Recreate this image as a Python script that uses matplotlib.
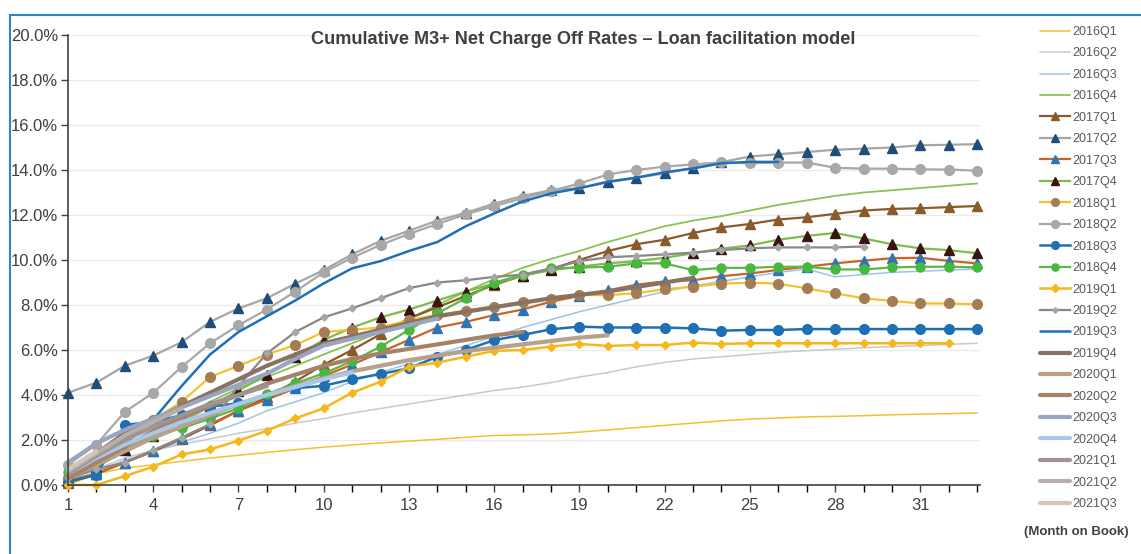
import matplotlib
matplotlib.use("Agg")
import matplotlib.pyplot as plt
from matplotlib.patches import Rectangle

plt.rcParams['font.family'] = ['Liberation Sans', 'DejaVu Sans']

series_names = ["2016Q1", "2016Q2", "2016Q3", "2016Q4", "2017Q1", "2017Q2", "2017Q3", "2017Q4",
                "2018Q1", "2018Q2", "2018Q3", "2018Q4", "2019Q1", "2019Q2", "2019Q3", "2019Q4",
                "2020Q1", "2020Q2", "2020Q3", "2020Q4", "2021Q1", "2021Q2", "2021Q3"]

v2016Q1 = [0.0, 0.5, 0.75, 0.9, 1.05, 1.2, 1.32, 1.45, 1.57, 1.68, 1.78, 1.87, 1.95, 2.03, 2.12, 2.2, 2.23,
           2.27, 2.35, 2.45, 2.55, 2.65, 2.75, 2.85, 2.93, 2.98, 3.03, 3.05, 3.08, 3.12, 3.15, 3.17, 3.2]
v2016Q2 = [0.2, 0.7, 1.2, 1.55, 1.8, 2.05, 2.3, 2.5, 2.75, 2.95, 3.2, 3.4, 3.6, 3.8, 4.0, 4.2, 4.35, 4.55,
           4.8, 5.0, 5.25, 5.45, 5.6, 5.7, 5.8, 5.9, 5.97, 6.03, 6.1, 6.15, 6.2, 6.25, 6.3]
v2016Q3 = [0.1, 0.6, 1.1, 1.5, 1.9, 2.3, 2.75, 3.3, 3.7, 4.1, 4.6, 5.0, 5.4, 5.8, 6.2, 6.6, 7.0, 7.35, 7.7,
           8.0, 8.3, 8.6, 8.85, 9.05, 9.25, 9.45, 9.6, 9.25, 9.35, 9.45, 9.5, 9.55, 9.6]
v2016Q4 = [0.2, 0.8, 1.5, 2.3, 3.0, 3.7, 4.3, 4.8, 5.3, 5.8, 6.3, 6.8, 7.4, 8.0, 8.6, 9.15, 9.65, 10.05,
           10.4, 10.8, 11.15, 11.5, 11.75, 11.95, 12.2, 12.45, 12.65, 12.85, 13.0, 13.1, 13.2, 13.3, 13.4]
v2017Q1 = [0.1, 0.5, 1.0, 1.5, 2.05, 2.65, 3.3, 3.9, 4.6, 5.35, 6.0, 6.7, 7.4, 7.9, 8.4, 8.9, 9.3, 9.6,
           10.0, 10.4, 10.7, 10.9, 11.2, 11.45, 11.6, 11.8, 11.9, 12.05, 12.2, 12.27, 12.3, 12.35, 12.4]
v2017Q2 = [4.1, 4.55, 5.3, 5.75, 6.35, 7.25, 7.85, 8.3, 8.95, 9.55, 10.25, 10.85, 11.3, 11.75, 12.1, 12.5,
           12.85, 13.1, 13.2, 13.45, 13.65, 13.85, 14.1, 14.35, 14.6, 14.7, 14.8, 14.9, 14.95, 15.0, 15.1,
           15.12, 15.15]
v2017Q3 = [0.2, 0.5, 1.0, 1.5, 2.1, 2.7, 3.3, 3.8, 4.3, 4.85, 5.35, 5.9, 6.45, 7.0, 7.25, 7.55, 7.8, 8.15,
           8.4, 8.65, 8.9, 9.05, 9.1, 9.28, 9.4, 9.56, 9.7, 9.85, 9.97, 10.08, 10.1, 9.96, 9.85]
v2017Q4 = [0.2, 0.8, 1.55, 2.2, 2.8, 3.5, 4.2, 4.9, 5.7, 6.45, 7.0, 7.45, 7.8, 8.2, 8.6, 8.95, 9.3, 9.55,
           9.7, 9.85, 9.95, 10.1, 10.3, 10.5, 10.65, 10.9, 11.07, 11.2, 10.96, 10.7, 10.52, 10.44, 10.3]
v2018Q1 = [0.3, 1.0, 2.07, 2.9, 3.7, 4.8, 5.3, 5.8, 6.22, 6.8, 6.9, 7.0, 7.33, 7.56, 7.75, 7.93, 8.15, 8.28,
           8.44, 8.44, 8.52, 8.7, 8.81, 8.95, 8.99, 8.95, 8.74, 8.52, 8.3, 8.18, 8.07, 8.07, 8.03]
v2018Q2 = [0.9, 1.8, 3.25, 4.1, 5.25, 6.3, 7.1, 7.8, 8.6, 9.45, 10.1, 10.67, 11.16, 11.6, 12.03, 12.4,
           12.74, 13.07, 13.4, 13.8, 14.0, 14.15, 14.25, 14.34, 14.3, 14.33, 14.33, 14.1, 14.06, 14.06,
           14.03, 14.02, 13.97]
v2018Q3 = [0.15, 0.44, 2.67, 2.81, 3.1, 3.48, 3.63, 4.0, 4.3, 4.41, 4.7, 4.93, 5.19, 5.7, 6.0, 6.44, 6.67,
           6.92, 7.04, 7.0, 7.0, 7.0, 6.96, 6.86, 6.89, 6.89, 6.93, 6.93, 6.93, 6.93, 6.93, 6.93, 6.93]
v2018Q4 = [0.59, 1.3, 1.93, 2.2, 2.52, 2.95, 3.41, 4.04, 4.52, 4.96, 5.5, 6.15, 6.89, 7.63, 8.3, 8.99, 9.35,
           9.63, 9.66, 9.7, 9.85, 9.85, 9.55, 9.65, 9.65, 9.7, 9.7, 9.58, 9.58, 9.67, 9.7, 9.7, 9.67]
v2019Q1 = [0.0, 0.0, 0.4, 0.81, 1.36, 1.58, 1.97, 2.41, 2.96, 3.41, 4.1, 4.59, 5.26, 5.44, 5.7, 5.96, 6.0,
           6.15, 6.27, 6.18, 6.22, 6.22, 6.33, 6.27, 6.3, 6.3, 6.3, 6.3, 6.3, 6.3, 6.3, 6.3]
v2019Q2 = [0.3, 0.7, 1.0, 1.55, 2.1, 2.7, 4.4, 5.85, 6.8, 7.45, 7.85, 8.3, 8.75, 9.0, 9.1, 9.25, 9.35, 9.6,
           9.95, 10.12, 10.18, 10.25, 10.33, 10.44, 10.52, 10.56, 10.56, 10.56, 10.6]
v2019Q3 = [0.3, 0.9, 2.0, 2.9, 4.4, 5.8, 6.8, 7.5, 8.2, 8.96, 9.63, 9.95, 10.4, 10.8, 11.5, 12.07, 12.6,
           12.96, 13.19, 13.48, 13.66, 13.9, 14.07, 14.3, 14.36, 14.36]
v2019Q4 = [0.4, 1.4, 2.3, 2.9, 3.5, 4.1, 4.7, 5.3, 5.8, 6.3, 6.6, 6.9, 7.2, 7.5, 7.7, 7.9, 8.1, 8.3, 8.45,
           8.6, 8.8, 9.0, 9.2]
v2020Q1 = [0.3, 0.9, 1.5, 2.1, 2.6, 3.1, 3.6, 4.0, 4.4, 4.75, 5.05, 5.3, 5.55, 5.75, 5.95, 6.1, 6.25, 6.4,
           6.55, 6.65]
v2020Q2 = [0.3, 1.0, 1.7, 2.4, 3.0, 3.5, 4.0, 4.5, 4.9, 5.3, 5.6, 5.85, 6.05, 6.25, 6.45, 6.65, 6.8]
v2020Q3 = [1.0, 1.85, 2.45, 2.95, 3.45, 3.95, 4.45, 4.95, 5.6, 6.2, 6.5, 6.8, 7.1, 7.4]
v2020Q4 = [0.5, 1.2, 1.8, 2.3, 2.8, 3.2, 3.6, 4.0, 4.35, 4.7, 5.0]
v2021Q1 = [0.5, 1.3, 2.0, 2.6, 3.1, 3.6, 4.0, 4.4]
v2021Q2 = [0.6, 1.4, 2.2, 2.8, 3.4]
v2021Q3 = [0.7, 1.5]

values = [v2016Q1, v2016Q2, v2016Q3, v2016Q4, v2017Q1, v2017Q2, v2017Q3, v2017Q4,
          v2018Q1, v2018Q2, v2018Q3, v2018Q4, v2019Q1, v2019Q2, v2019Q3, v2019Q4,
          v2020Q1, v2020Q2, v2020Q3, v2020Q4, v2021Q1, v2021Q2, v2021Q3]

x_ticks = [1, 4, 7, 10, 13, 16, 19, 22, 25, 28, 31]
y_ticks = [0, 2, 4, 6, 8, 10, 12, 14, 16, 18, 20]

# style: (line color, linewidth, marker, marker face color, marker size)
styles = {
    "2016Q1": ("#F2C12E", 1.1, None, None, 0),
    "2016Q2": ("#C9C9C9", 1.1, None, None, 0),
    "2016Q3": ("#9DC3E6", 1.1, None, None, 0),
    "2016Q4": ("#8CC152", 1.3, None, None, 0),
    "2017Q1": ("#8B5A2B", 1.6, "^", "#8B5A2B", 6.5),
    "2017Q2": ("#A6A6A6", 1.6, "^", "#1F4E79", 6.5),
    "2017Q3": ("#C8642A", 1.6, "^", "#2E75B6", 6.5),
    "2017Q4": ("#7DBB4E", 1.6, "^", "#3A1410", 6.5),
    "2018Q1": ("#F6C12C", 1.6, "o", "#A57D54", 7),
    "2018Q2": ("#A8A8A8", 1.6, "o", "#A8A8A8", 7),
    "2018Q3": ("#1F6FB4", 1.8, "o", "#1F6FB4", 7),
    "2018Q4": ("#5DB744", 1.6, "o", "#47B83E", 6.5),
    "2019Q1": ("#F5B81C", 1.8, "D", "#F5B81C", 4.5),
    "2019Q2": ("#888888", 1.6, "D", "#A6A6A6", 3.5),
    "2019Q3": ("#1F6FB8", 1.8, None, None, 0),
    "2019Q4": ("#8A7262", 3.0, None, None, 0),
    "2020Q1": ("#B7A08C", 3.0, None, None, 0),
    "2020Q2": ("#A5836A", 3.0, None, None, 0),
    "2020Q3": ("#9AA6BF", 3.0, None, None, 0),
    "2020Q4": ("#AAC6E8", 3.0, None, None, 0),
    "2021Q1": ("#9E9492", 3.0, None, None, 0),
    "2021Q2": ("#B8AFAB", 3.0, None, None, 0),
    "2021Q3": ("#D2C6BA", 3.0, None, None, 0),
}

W, H = 1141, 554
fig = plt.figure(figsize=(W / 100, H / 100), dpi=100)
fig.patch.set_facecolor("white")

# blue frame around the chart
fig.add_artist(Rectangle((10 / W, -0.02), 1.2, 1 - 15 / H + 0.02, transform=fig.transFigure,
                         fill=False, edgecolor="#2E86C8", linewidth=1.5))

ax = fig.add_axes([68 / W, 1 - 485 / H, (980 - 68) / W, (485 - 35) / H])
ax.set_facecolor("white")

handles = []
for name, vals in zip(series_names, values):
    c, lw, mk, mfc, ms = styles[name]
    months = list(range(1, len(vals) + 1))
    if mk:
        ln, = ax.plot(months, vals, color=c, lw=lw, marker=mk, markerfacecolor=mfc,
                      markeredgecolor=mfc, markersize=ms, solid_joinstyle="round", label=name,
                      clip_on=False)
    else:
        ln, = ax.plot(months, vals, color=c, lw=lw, solid_capstyle="round", label=name,
                      clip_on=False)
    handles.append(ln)

ax.set_xlim(1, 33.1)
ax.set_ylim(0, 20)
ax.set_yticks(y_ticks)
ax.set_yticklabels([f"{t:.1f}%" for t in y_ticks])
ax.set_xticks(x_ticks)
ax.set_xticks(range(1, 34), minor=True)
ax.tick_params(axis="both", labelsize=12, colors="#404040", labelcolor="#404040")
ax.tick_params(axis="x", which="both", direction="out", length=5, width=1, pad=4)
ax.tick_params(axis="y", direction="out", length=5, width=1, pad=2)
ax.grid(axis="y", color="#EBEBEB", linewidth=1)
ax.set_axisbelow(True)
for s in ["top", "right"]:
    ax.spines[s].set_visible(False)
for s in ["left", "bottom"]:
    ax.spines[s].set_color("#404040")
    ax.spines[s].set_linewidth(1.2)

fig.text(583 / W, 1 - 40 / H, "Cumulative M3+ Net Charge Off Rates \u2013 Loan facilitation model",
         ha="center", va="center", fontsize=13.1, fontweight="bold", color="#404040")

fig.legend(handles, series_names, loc="upper left", bbox_to_anchor=(1040 / W, 1 - 26 / H),
           frameon=False, fontsize=9, labelspacing=0.757, handlelength=2.4, handletextpad=0.15,
           numpoints=1, labelcolor="#595959", borderpad=0, borderaxespad=0, markerscale=0.8)

fig.text(1076 / W, 1 - 532 / H, "(Month on Book)", ha="center", va="center", fontsize=9.5,
         fontweight="bold", color="#404040")

fig.savefig("out.png", dpi=100, facecolor="white")
